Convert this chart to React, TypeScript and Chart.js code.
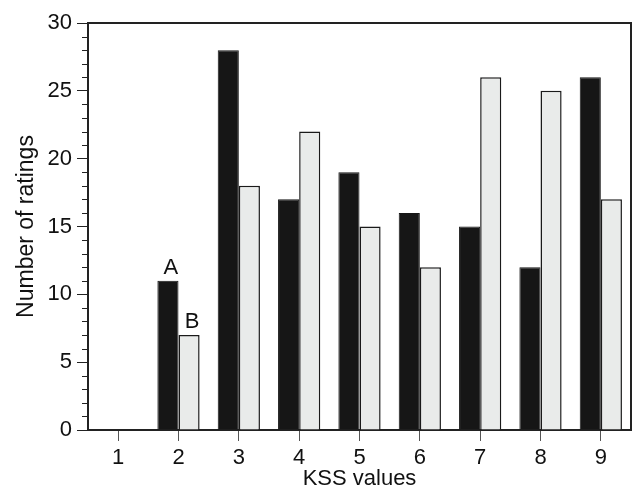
import React, { useEffect, useRef } from "react";
import { Chart, registerables } from "chart.js";

Chart.register(...registerables);

const categories = ["1", "2", "3", "4", "5", "6", "7", "8", "9"];
const seriesA = [0, 11, 28, 17, 19, 16, 15, 12, 26];
const seriesB = [0, 7, 18, 22, 15, 12, 26, 25, 17];
const seriesNames = ["A", "B"];
const yTitle = "Number of ratings";
const xTitle = "KSS values";
const yMin = 0;
const yMax = 30;
const yMajorStep = 5;
const yMinorStep = 1;

const FONT = "'Liberation Sans', Arial, Helvetica, sans-serif";

const framePlugin = {
  id: "frameAndMinor",
  afterDraw(chart: any) {
    const { ctx, chartArea } = chart;
    const ys = chart.scales.y;
    ctx.save();
    // minor ticks
    ctx.strokeStyle = "#222";
    ctx.lineWidth = 1;
    for (let v = yMin; v <= yMax; v += yMinorStep) {
      if (v % yMajorStep === 0) continue;
      const py = Math.round(ys.getPixelForValue(v)) + 0.5;
      ctx.beginPath();
      ctx.moveTo(chartArea.left - 6, py);
      ctx.lineTo(chartArea.left, py);
      ctx.stroke();
    }
    // frame top and right
    ctx.strokeStyle = "#222";
    ctx.lineWidth = 2;
    ctx.beginPath();
    ctx.moveTo(chartArea.left, chartArea.top);
    ctx.lineTo(chartArea.right, chartArea.top);
    ctx.lineTo(chartArea.right, chartArea.bottom);
    ctx.stroke();
    // series labels at category 2
    ctx.fillStyle = "#111";
    ctx.font = `22px ${FONT}`;
    ctx.textAlign = "center";
    ctx.textBaseline = "alphabetic";
    [0, 1].forEach((di) => {
      const el = chart.getDatasetMeta(di).data[1];
      if (el) ctx.fillText(seriesNames[di], el.x + 3, el.y - 7);
    });
    ctx.restore();
  },
};

export default function App() {
  const ref = useRef<HTMLCanvasElement | null>(null);
  useEffect(() => {
    if (!ref.current) return;
    const chart = new Chart(ref.current, {
      type: "bar",
      data: {
        labels: categories,
        datasets: [
          {
            label: seriesNames[0],
            data: seriesA,
            backgroundColor: "#161616",
            borderColor: "#161616",
            borderWidth: 1,
            categoryPercentage: 0.7,
            barPercentage: 1.0,
          },
          {
            label: seriesNames[1],
            data: seriesB,
            backgroundColor: "#e9ebea",
            borderColor: "#1a1a1a",
            borderWidth: 1.5,
            categoryPercentage: 0.7,
            barPercentage: 1.0,
          },
        ],
      },
      options: {
        responsive: false,
        animation: false,
        layout: { padding: { top: 23, right: 2, left: 0, bottom: 0 } },
        plugins: {
          legend: { display: false },
          tooltip: { enabled: false },
        },
        scales: {
          x: {
            offset: true,
            grid: {
              offset: false,
              drawOnChartArea: false,
              drawTicks: true,
              tickLength: 11,
              tickColor: "#555",
              tickWidth: 1,
            },
            border: { display: true, color: "#222", width: 2 },
            ticks: {
              color: "#111",
              font: { family: FONT, size: 22 },
              padding: 4,
              maxRotation: 0,
            },
            title: {
              display: true,
              text: xTitle,
              color: "#111",
              font: { family: FONT, size: 22, lineHeight: 1 },
              padding: { top: 0, bottom: 0 },
            },
            afterFit: (s: any) => {
              s.height = 60;
            },
          },
          y: {
            min: yMin,
            max: yMax,
            grid: {
              drawOnChartArea: false,
              drawTicks: true,
              tickLength: 11,
              tickColor: "#222",
              tickWidth: 1,
            },
            border: { display: true, color: "#222", width: 2 },
            ticks: {
              stepSize: yMajorStep,
              color: "#111",
              font: { family: FONT, size: 22 },
              padding: 5,
            },
            title: {
              display: true,
              text: yTitle,
              color: "#111",
              font: { family: FONT, size: 23, lineHeight: 1 },
              padding: { top: 15, bottom: 0 },
            },
            afterFit: (s: any) => {
              s.width = 88;
            },
          },
        },
      },
      plugins: [framePlugin],
    });
    return () => chart.destroy();
  }, []);
  return (
    <div style={{ position: "fixed", left: 0, top: 0, width: 633, height: 490, background: "#fff" }}>
      <canvas ref={ref} width={633} height={490} />
    </div>
  );
}
